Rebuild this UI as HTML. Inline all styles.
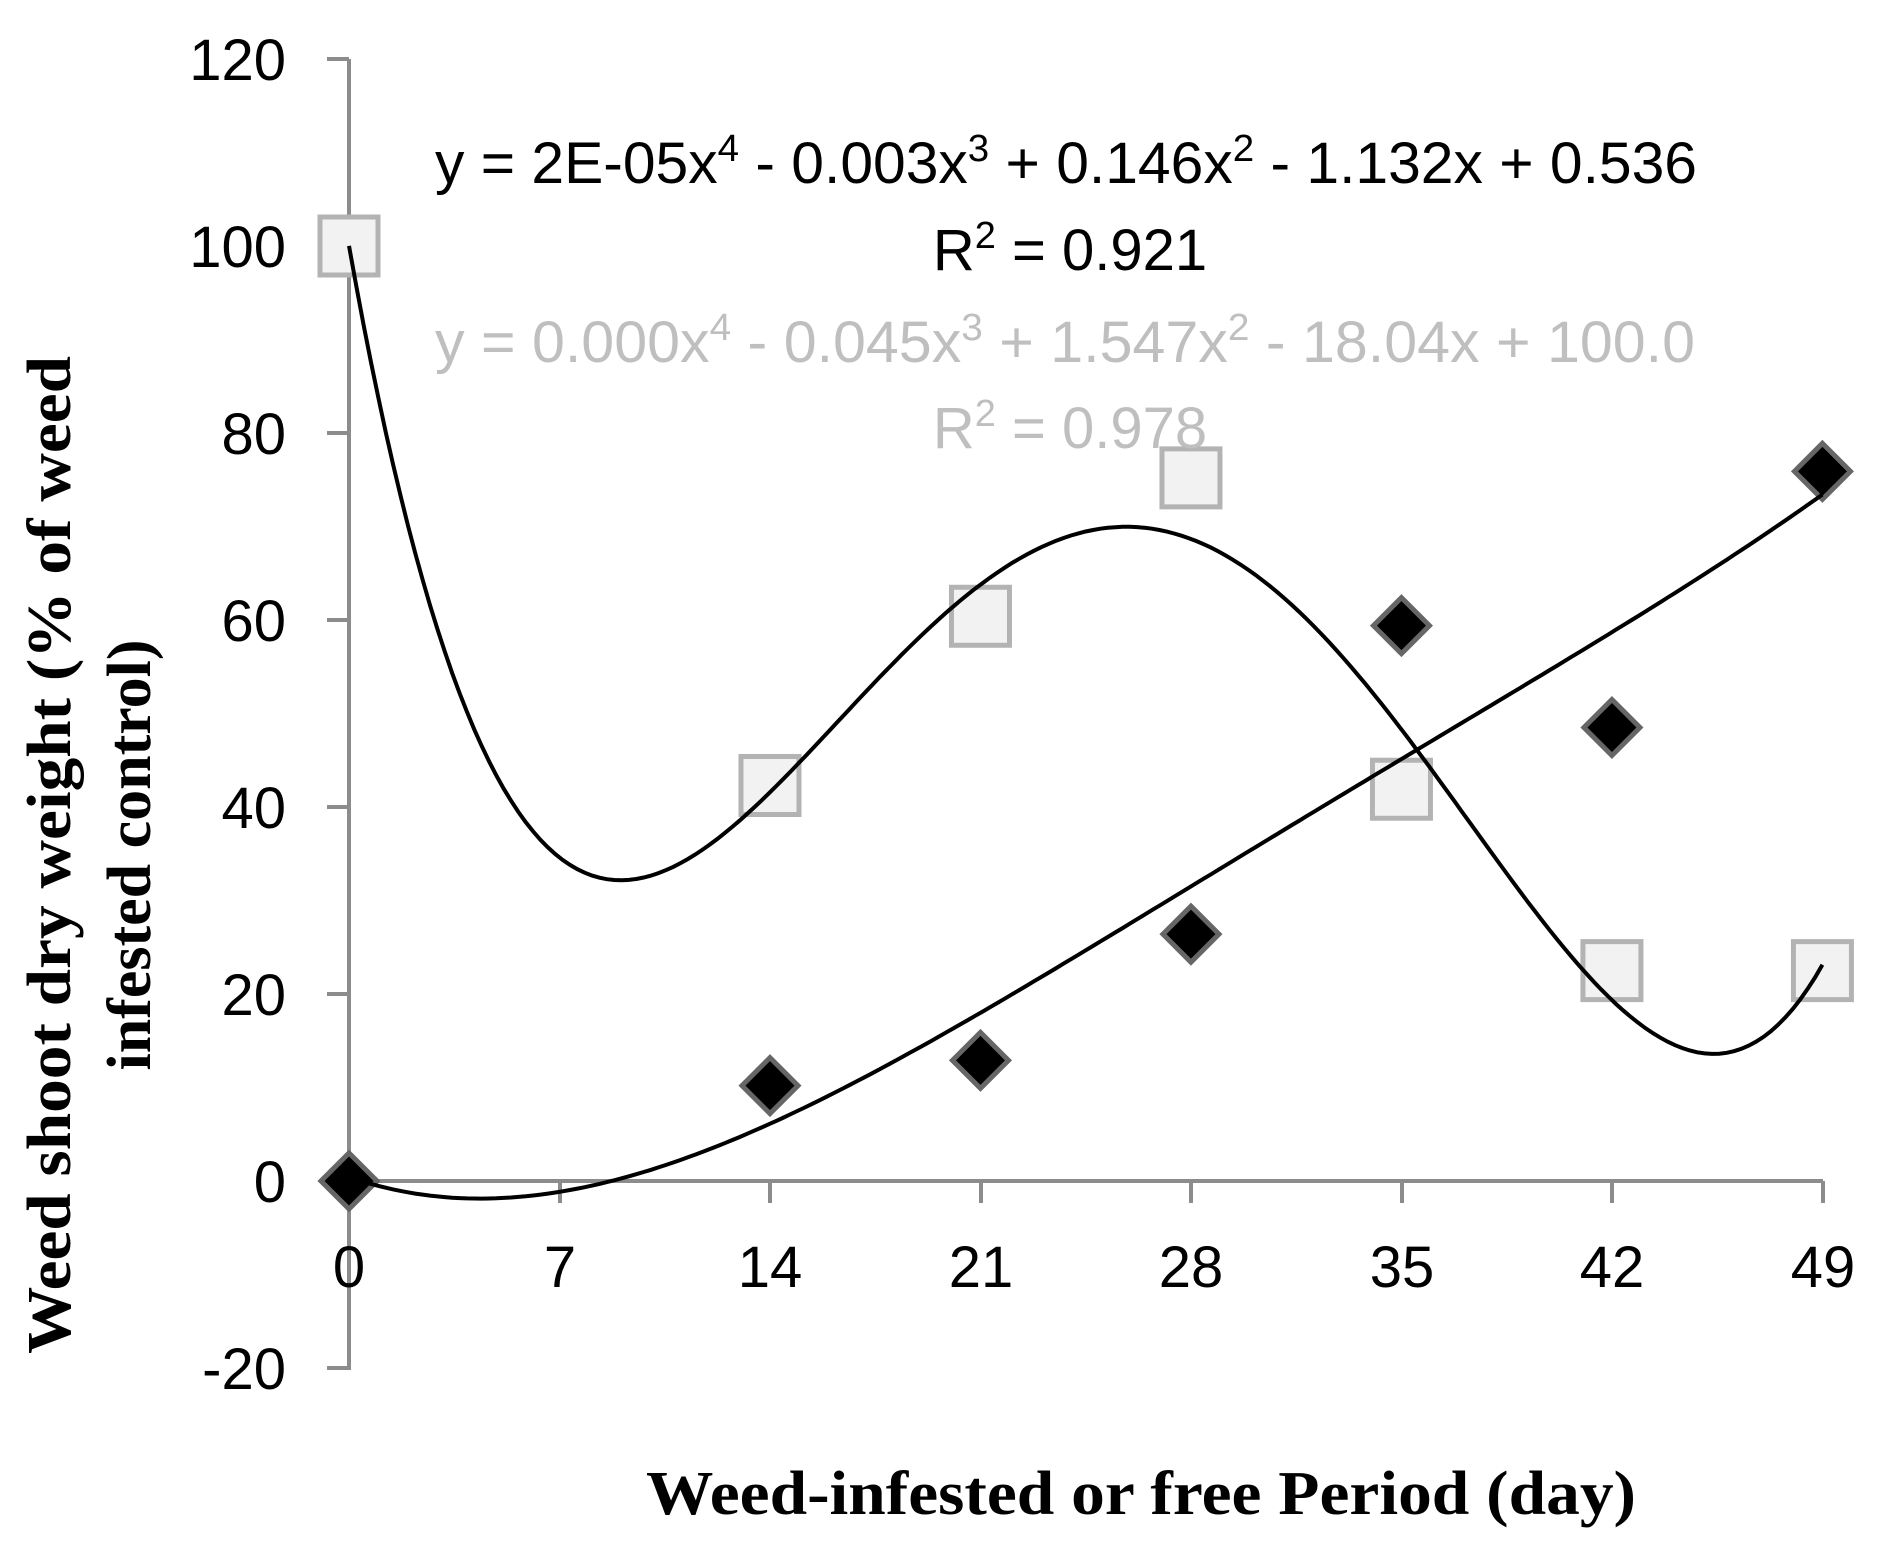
<!DOCTYPE html>
<html><head><meta charset="utf-8"><style>html,body{margin:0;padding:0;background:#fff}svg{display:block}</style></head>
<body>
<svg id="s" width="1899" height="1550" viewBox="0 0 1899 1550" xmlns="http://www.w3.org/2000/svg">
<rect width="1899" height="1550" fill="#fff"/>
<g stroke="#8c8c8c" stroke-width="4" fill="none">
<line x1="349" y1="59" x2="349" y2="1370"/>
<line x1="349" y1="1181" x2="1823" y2="1181"/>
<line x1="327" y1="59" x2="349" y2="59"/>
<line x1="327" y1="246" x2="349" y2="246"/>
<line x1="327" y1="433" x2="349" y2="433"/>
<line x1="327" y1="620" x2="349" y2="620"/>
<line x1="327" y1="807" x2="349" y2="807"/>
<line x1="327" y1="994" x2="349" y2="994"/>
<line x1="327" y1="1181" x2="349" y2="1181"/>
<line x1="327" y1="1368" x2="349" y2="1368"/>
<line x1="560" y1="1181" x2="560" y2="1203"/>
<line x1="770" y1="1181" x2="770" y2="1203"/>
<line x1="981" y1="1181" x2="981" y2="1203"/>
<line x1="1191" y1="1181" x2="1191" y2="1203"/>
<line x1="1402" y1="1181" x2="1402" y2="1203"/>
<line x1="1612" y1="1181" x2="1612" y2="1203"/>
<line x1="1823" y1="1181" x2="1823" y2="1203"/>
</g>
<g font-family="Liberation Sans, sans-serif" font-size="58" fill="#000" text-anchor="end">
<text x="286" y="80">120</text><text x="286" y="267">100</text><text x="286" y="454">80</text>
<text x="286" y="641">60</text><text x="286" y="828">40</text><text x="286" y="1015">20</text>
<text x="286" y="1202">0</text><text x="286" y="1389">-20</text>
</g>
<g font-family="Liberation Sans, sans-serif" font-size="58" fill="#000" text-anchor="middle">
<text x="349" y="1287">0</text><text x="560" y="1287">7</text><text x="770" y="1287">14</text>
<text x="981" y="1287">21</text><text x="1191" y="1287">28</text><text x="1402" y="1287">35</text>
<text x="1612" y="1287">42</text><text x="1823" y="1287">49</text>
</g>
<g id="markers"></g>
<path id="cg" fill="none" stroke="#000" stroke-width="4"/>
<path id="cb" fill="none" stroke="#000" stroke-width="4"/>
<g font-family="Liberation Sans, sans-serif" font-size="58">
<text x="435" y="183" textLength="1262" lengthAdjust="spacingAndGlyphs" fill="#000">y = 2E-05x<tspan dy="-22" font-size="38">4</tspan><tspan dy="22"> - 0.003x</tspan><tspan dy="-22" font-size="38">3</tspan><tspan dy="22"> + 0.146x</tspan><tspan dy="-22" font-size="38">2</tspan><tspan dy="22"> - 1.132x + 0.536</tspan></text>
<text x="1070" y="270" text-anchor="middle" fill="#000">R<tspan dy="-22" font-size="38">2</tspan><tspan dy="22"> = 0.921</tspan></text>
<text x="435" y="362" textLength="1260" lengthAdjust="spacingAndGlyphs" fill="#bfbfbf">y = 0.000x<tspan dy="-22" font-size="38">4</tspan><tspan dy="22"> - 0.045x</tspan><tspan dy="-22" font-size="38">3</tspan><tspan dy="22"> + 1.547x</tspan><tspan dy="-22" font-size="38">2</tspan><tspan dy="22"> - 18.04x + 100.0</tspan></text>
<text x="1070" y="448" text-anchor="middle" fill="#bfbfbf">R<tspan dy="-22" font-size="38">2</tspan><tspan dy="22"> = 0.978</tspan></text>
</g>
<g font-family="Liberation Serif, serif" font-weight="bold" font-size="62" fill="#000" text-anchor="middle">
<text transform="translate(70,855) rotate(-90)" textLength="998" lengthAdjust="spacingAndGlyphs">Weed shoot dry weight (% of weed</text>
<text transform="translate(150,855) rotate(-90)">infested control)</text>
<text x="1141" y="1514" textLength="990" lengthAdjust="spacingAndGlyphs">Weed-infested or free Period (day)</text>
</g>
</svg>
<script>
(function(){
var X=[0,14,21,28,35,42,49];
var G=[100,42.3,60.4,75.2,41.9,22.5,22.5];
var B=[0,10.2,12.9,26.4,59.4,48.5,75.9];
function px(d){return 349+d*30.07;}function py(v){return 1181-v*9.35;}
function fit(Y){var n=5,A=[],b=[];for(var i=0;i<n;i++){A.push([0,0,0,0,0]);b.push(0);}
for(var k=0;k<X.length;k++){var t=X[k]/49;for(var i=0;i<n;i++){b[i]+=Math.pow(t,i)*Y[k];for(var j=0;j<n;j++)A[i][j]+=Math.pow(t,i+j);}}
for(var i=0;i<n;i++){var p=i;for(var r=i+1;r<n;r++)if(Math.abs(A[r][i])>Math.abs(A[p][i]))p=r;
var tmp=A[i];A[i]=A[p];A[p]=tmp;var tb=b[i];b[i]=b[p];b[p]=tb;
for(var r=i+1;r<n;r++){var f=A[r][i]/A[i][i];for(var j=i;j<n;j++)A[r][j]-=f*A[i][j];b[r]-=f*b[i];}}
var c=[0,0,0,0,0];for(var i=n-1;i>=0;i--){var s=b[i];for(var j=i+1;j<n;j++)s-=A[i][j]*c[j];c[i]=s/A[i][i];}return c;}
function path(c){var d="";for(var k=0;k<=200;k++){var x=49*k/200,t=x/49,v=c[0]+c[1]*t+c[2]*t*t+c[3]*t*t*t+c[4]*t*t*t*t;d+=(k?"L":"M")+px(x).toFixed(1)+" "+py(v).toFixed(1);}return d;}
var ns="http://www.w3.org/2000/svg",m=document.getElementById("markers");
for(var k=0;k<7;k++){var r=document.createElementNS(ns,"rect");var cx=px(X[k]),cy=py(G[k]);
r.setAttribute("x",cx-29);r.setAttribute("y",cy-29);r.setAttribute("width",58);r.setAttribute("height",58);
r.setAttribute("fill","#f2f2f2");r.setAttribute("stroke","#b3b3b3");r.setAttribute("stroke-width","5");m.appendChild(r);}
for(var k=0;k<7;k++){var p=document.createElementNS(ns,"path");var cx=px(X[k]),cy=py(B[k]);
p.setAttribute("d","M"+cx+" "+(cy-28)+"L"+(cx+28)+" "+cy+"L"+cx+" "+(cy+28)+"L"+(cx-28)+" "+cy+"Z");
p.setAttribute("fill","#000");p.setAttribute("stroke","#666");p.setAttribute("stroke-width","5");m.appendChild(p);}
document.getElementById("cg").setAttribute("d",path(fit(G)));
document.getElementById("cb").setAttribute("d",path(fit(B)));
})();
</script>
</body></html>
